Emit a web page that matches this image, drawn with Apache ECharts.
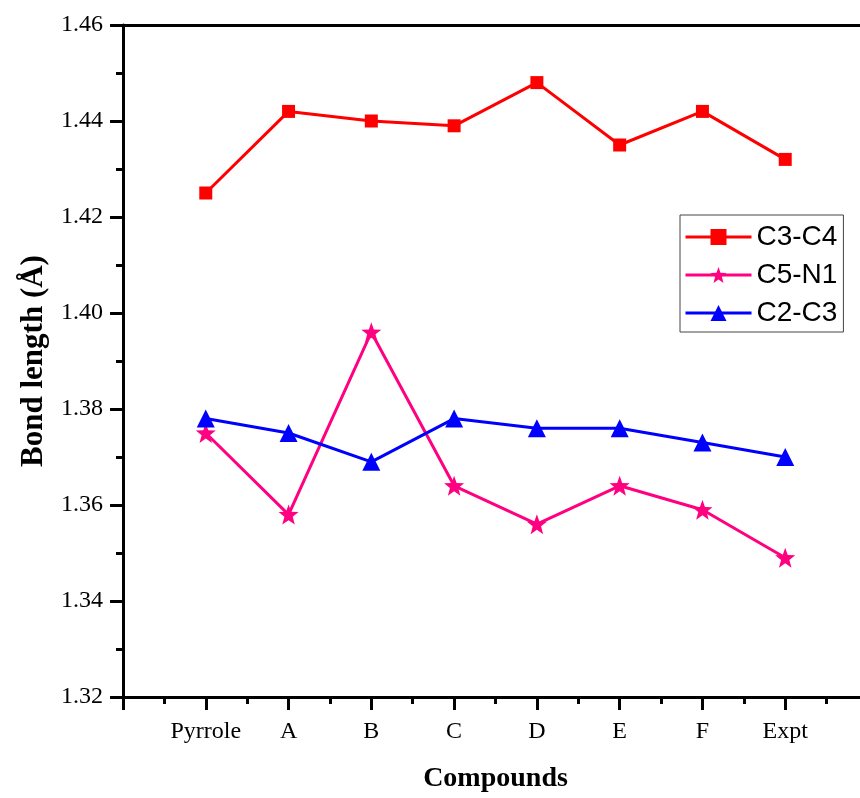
<!DOCTYPE html>
<html>
<head>
<meta charset="utf-8">
<script src="https://cdn.jsdelivr.net/npm/echarts@6/dist/echarts.min.js"></script>
<style>
  html, body { margin: 0; padding: 0; background: #fff; }
  #chart { width: 860px; height: 798px; }
</style>
</head>
<body>
<div id="chart"></div>
<script>
// Compounds along the x axis (positions 1..8; 0 and 9 are empty padding slots)
const compounds = ['Pyrrole', 'A', 'B', 'C', 'D', 'E', 'F', 'Expt'];

// Bond lengths in Å
const c3c4 = [1.425, 1.442, 1.440, 1.439, 1.448, 1.435, 1.442, 1.432];
const c5n1 = [1.375, 1.358, 1.396, 1.364, 1.356, 1.364, 1.359, 1.349];
const c2c3 = [1.378, 1.375, 1.369, 1.378, 1.376, 1.376, 1.373, 1.370];

const yTicks = { min: 1.32, max: 1.46, step: 0.02 };

const starPath = 'path://M50,0 L62,34 L98,35 L70,57 L80,94 L50,73 L20,94 L30,57 L2,35 L38,34 Z';

function toPoints(values) {
  return values.map((v, i) => [i + 1, v]);
}

const serif = '"Liberation Serif", "Times New Roman", serif';
const sans = '"Liberation Sans", Arial, sans-serif';

const tickStyle = { color: '#000', width: 3 };

const chart = echarts.init(document.getElementById('chart'));
chart.setOption({
  animation: false,
  backgroundColor: '#fff',
  grid: {
    left: 123, top: 25, width: 745, height: 672,
    outerBoundsMode: 'none',
    containLabel: false
  },
  legend: {
    orient: 'vertical',
    left: 680, top: 215,
    padding: [8, 6, 5, 4],
    borderColor: '#444', borderWidth: 1,
    itemWidth: 66, itemHeight: 20, itemGap: 10,
    lineStyle: { width: 3 },
    textStyle: { fontFamily: sans, fontSize: 28, color: '#000' },
    data: ['C3-C4', 'C5-N1', 'C2-C3']
  },
  xAxis: [
    {
      type: 'value',
      min: 0, max: compounds.length + 1, interval: 1,
      name: 'Compounds',
      nameLocation: 'middle',
      nameGap: 68,
      nameTextStyle: { fontFamily: serif, fontWeight: 'bold', fontSize: 28, color: '#000' },
      axisLine: { lineStyle: tickStyle },
      axisTick: { show: true, inside: false, length: 13, lineStyle: tickStyle },
      minorTick: { show: true, splitNumber: 2, length: 7, lineStyle: tickStyle },
      splitLine: { show: false },
      axisLabel: {
        margin: 23,
        fontFamily: serif, fontSize: 24, color: '#000',
        formatter: v => (v >= 1 && v <= compounds.length) ? compounds[v - 1] : ''
      }
    },
    {
      // plain frame line along the top of the plot
      type: 'value', position: 'top',
      min: 0, max: compounds.length + 1, interval: 1,
      axisLine: { show: true, lineStyle: tickStyle },
      axisTick: { show: false }, axisLabel: { show: false }, splitLine: { show: false }
    }
  ],
  yAxis: {
    type: 'value',
    min: yTicks.min, max: yTicks.max, interval: yTicks.step,
    name: 'Bond length (Å)',
    nameLocation: 'middle',
    nameGap: 74,
    nameTextStyle: { fontFamily: serif, fontWeight: 'bold', fontSize: 31, color: '#000' },
    axisLine: { show: true, lineStyle: tickStyle },
    axisTick: { show: true, inside: false, length: 13, lineStyle: tickStyle },
    minorTick: { show: true, splitNumber: 2, length: 7, lineStyle: tickStyle },
    splitLine: { show: false },
    axisLabel: {
      margin: 20,
      fontFamily: serif, fontSize: 24, color: '#000',
      formatter: v => v.toFixed(2)
    }
  },
  series: [
    {
      name: 'C3-C4', type: 'line', data: toPoints(c3c4),
      symbol: 'rect', symbolSize: 13,
      itemStyle: { color: '#ff0000' },
      lineStyle: { color: '#ff0000', width: 3 }
    },
    {
      name: 'C5-N1', type: 'line', data: toPoints(c5n1),
      symbol: starPath, symbolSize: 20,
      itemStyle: { color: '#ff0080' },
      lineStyle: { color: '#ff0080', width: 3 }
    },
    {
      name: 'C2-C3', type: 'line', data: toPoints(c2c3),
      symbol: 'triangle', symbolSize: 18,
      itemStyle: { color: '#0000ff' },
      lineStyle: { color: '#0000ff', width: 3 }
    }
  ]
});
</script>
</body>
</html>
